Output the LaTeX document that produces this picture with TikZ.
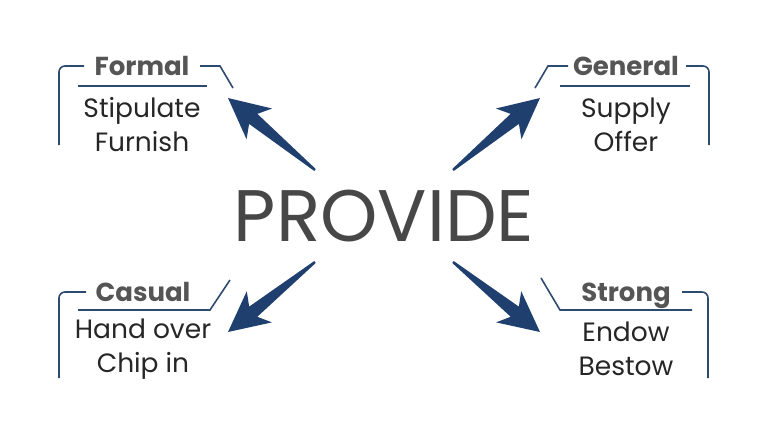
\documentclass[tikz,border=0pt]{standalone}
\usepackage{fontspec}
\usetikzlibrary{calc}
\setmainfont{Poppins}
\begin{document}
\begin{tikzpicture}[x=1pt,y=-1pt,
  br/.style={draw=brc,line width=1.6pt,rounded corners=6pt},
  ttl/.style={font=\fontsize{26}{26}\selectfont\bfseries,text=ttc,inner sep=0pt,anchor=base},
  wd/.style={font=\fontsize{26.5}{34}\selectfont,text=black!85,align=center,inner sep=0pt},
  arr/.style={fill=arc}]
\definecolor{brc}{HTML}{2E4A6E}\definecolor{arc}{HTML}{1F3F6E}\definecolor{ttc}{HTML}{555555}
\useasboundingbox (0,0) rectangle (768,432);
\node[font=\fontsize{73}{73}\selectfont,text=black!72,inner sep=0pt] (main) at (384,216) {PROVIDE};
% Formal
\node[ttl] (t1) at (142,75) {Formal};
\node[wd] (w1) at (142,125) {Stipulate\\Furnish};
\draw[br] (59,145) -- (59,66) -- (84,66);
\draw[br,rounded corners=0] (200,66) -- (220,66) -- (233,88);
\draw[draw=brc,line width=1.6pt] (78,86) -- (207,86);
% General
\node[ttl] (t2) at (626,75) {General};
\node[wd] (w2) at (626,125) {Supply\\Offer};
\draw[br] (709,145) -- (709,66) -- (686,66);
\draw[br,rounded corners=0] (568,66) -- (548,66) -- (535,88);
\draw[draw=brc,line width=1.6pt] (560,86) -- (690,86);
% Casual
\node[ttl] (t3) at (143,301) {Casual};
\node[wd] (w3) at (143,349) {Hand over\\Chip in};
\draw[br] (59,378) -- (59,292) -- (86,292);
\draw[draw=brc,line width=1.6pt] (78,310) -- (210,310) -- (230,280);
% Strong
\node[ttl] (t4) at (626,301) {Strong};
\node[wd] (w4) at (626,349) {Endow\\Bestow};
\draw[br] (708,378) -- (708,292) -- (682,292);
\draw[draw=brc,line width=1.6pt] (541,278) -- (560,310) -- (692,310);
% arrows
\foreach \n/\sx/\sy/\ex/\ey in {a/315/170/228/98, b/453/170/540/98, c/315/262/228/332, d/453/262/540/332}{
  \coordinate (\n S) at (\sx,\sy);
  \coordinate (\n E) at (\ex,\ey);
  \coordinate (\n H) at ($(\n S)!0.64!(\n E)$);
  \coordinate (\n K) at ($(\n S)!0.71!(\n E)$);
  \fill[arc] ($(\n S)!1.2pt!90:(\n E)$) -- ($(\n K)!6.5pt!90:(\n E)$) -- ($(\n H)!20pt!90:(\n E)$) -- (\n E)
    -- ($(\n H)!20pt!-90:(\n E)$) -- ($(\n K)!6.5pt!-90:(\n E)$) -- ($(\n S)!1.2pt!-90:(\n E)$) -- cycle;
}
\end{tikzpicture}
\end{document}
